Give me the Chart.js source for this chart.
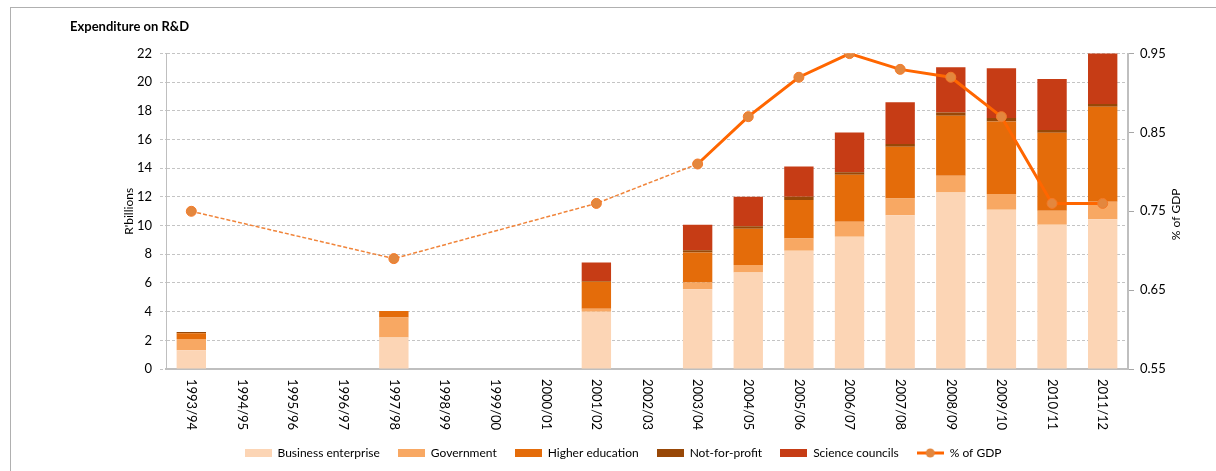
<!DOCTYPE html>
<html lang="en">
<head>
    <meta charset="UTF-8">
    <title>Expenditure on R&amp;D</title>
    <script src="https://cdn.jsdelivr.net/npm/chart.js"></script>
    <style>
        body { margin: 0; background: #fff; overflow: hidden; }
        #frame { position: absolute; left: 10px; top: 7px; width: 1300px; height: 600px; border: 1px solid #b0b0b0; }
        #chart-container { position: absolute; left: 10px; top: 7px; width: 1226px; height: 470px; }
    </style>
</head>
<body>
    <div id="frame"></div>
    <div id="chart-container">
        <canvas id="rdChart"></canvas>
    </div>

    <script>
        const years = ['1993/94', '1994/95', '1995/96', '1996/97', '1997/98', '1998/99', '1999/00', '2000/01', '2001/02', '2002/03',
            '2003/04', '2004/05', '2005/06', '2006/07', '2007/08', '2008/09', '2009/10', '2010/11', '2011/12'];
        // R'billions
        const business = [1.3, null, null, null, 2.2, null, null, null, 4.0, null, 5.56, 6.73, 8.24, 9.22, 10.73, 12.31, 11.1, 10.06, 10.45];
        const government = [0.8, null, null, null, 1.4, null, null, null, 0.21, null, 0.47, 0.53, 0.86, 1.05, 1.16, 1.17, 1.1, 0.97, 1.21];
        const higherEducation = [0.4, null, null, null, 0.45, null, null, null, 1.87, null, 2.09, 2.52, 2.68, 3.28, 3.61, 4.19, 5.07, 5.45, 6.64];
        const notForProfit = [0.08, null, null, null, 0, null, null, null, 0.05, null, 0.17, 0.18, 0.23, 0.18, 0.19, 0.23, 0.23, 0.19, 0.18];
        const scienceCouncils = [0, null, null, null, 0, null, null, null, 1.3, null, 1.77, 2.05, 2.12, 2.77, 2.91, 3.14, 3.47, 3.56, 3.59];
        // % of GDP
        const pctGDP = [0.75, null, null, null, 0.69, null, null, null, 0.76, null, 0.81, 0.87, 0.92, 0.95, 0.93, 0.92, 0.87, 0.76, 0.76];
        const leftTicks = [0, 22, 2];
        const rightTicks = [0.55, 0.95, 0.1];

        const FONT = 'Lato, "Noto Sans", sans-serif';

        function swatch(color, isLine) {
            const c = document.createElement('canvas');
            c.width = 27; c.height = 10;
            const g = c.getContext('2d');
            if (isLine) {
                g.strokeStyle = '#FF6600';
                g.lineWidth = 3;
                g.beginPath(); g.moveTo(0, 5); g.lineTo(27, 5); g.stroke();
                g.fillStyle = '#E3873E';
                g.beginPath(); g.arc(13.5, 5, 4.5, 0, Math.PI * 2); g.fill();
            } else {
                g.fillStyle = color;
                g.fillRect(0, 1, 27, 8);
            }
            return c;
        }

        // x labels read top to bottom, % of GDP title reads bottom to top
        const extraText = {
            id: 'extraText',
            afterDraw(chart) {
                const ctx = chart.ctx;
                const xs = chart.scales.x;
                ctx.save();
                ctx.fillStyle = '#000';
                ctx.font = '13px ' + FONT;
                ctx.textAlign = 'left';
                ctx.textBaseline = 'middle';
                years.forEach((lab, i) => {
                    ctx.save();
                    ctx.translate(xs.getPixelForValue(i), chart.chartArea.bottom + 10);
                    ctx.rotate(Math.PI / 2);
                    ctx.fillText(lab, 0, 0);
                    ctx.restore();
                });
                ctx.font = '12px ' + FONT;
                ctx.textAlign = 'center';
                ctx.translate(1166, (chart.chartArea.top + chart.chartArea.bottom) / 2 + 3);
                ctx.rotate(-Math.PI / 2);
                ctx.fillText('% of GDP', 0, 0);
                ctx.restore();
            }
        };

        const barColors = ['#FCD5B5', '#F8A863', '#E46C0A', '#984807', '#C63C15'];
        const gap = (c, v) => (c.p0.skip || c.p1.skip) ? v : undefined;

        new Chart(document.getElementById('rdChart'), {
            data: {
                labels: years,
                datasets: [
                    { type: 'bar', label: 'Business enterprise', data: business, backgroundColor: barColors[0], order: 1 },
                    { type: 'bar', label: 'Government', data: government, backgroundColor: barColors[1], order: 1 },
                    { type: 'bar', label: 'Higher education', data: higherEducation, backgroundColor: barColors[2], order: 1 },
                    { type: 'bar', label: 'Not-for-profit', data: notForProfit, backgroundColor: barColors[3], order: 1 },
                    { type: 'bar', label: 'Science councils', data: scienceCouncils, backgroundColor: barColors[4], order: 1 },
                    {
                        type: 'line', label: '% of GDP', data: pctGDP, yAxisID: 'y1', order: 0,
                        spanGaps: true,
                        borderColor: '#FF6600',
                        borderWidth: 3,
                        pointRadius: 5,
                        pointBackgroundColor: '#E3873E',
                        pointBorderColor: '#F57A28',
                        pointBorderWidth: 1,
                        segment: {
                            borderDash: c => gap(c, [4, 2]),
                            borderWidth: c => gap(c, 1.5),
                            borderColor: c => gap(c, '#F0843A')
                        }
                    }
                ]
            },
            options: {
                responsive: true,
                maintainAspectRatio: false,
                animation: false,
                layout: { padding: { left: 60, right: 60, top: 0, bottom: 8 } },
                datasets: { bar: { barPercentage: 0.58, categoryPercentage: 1 } },
                scales: {
                    x: {
                        stacked: true,
                        grid: { display: false },
                        border: { color: '#BFBFBF', width: 2 },
                        ticks: { display: false },
                        afterFit: s => { s.height = 60; }
                    },
                    y: {
                        stacked: true,
                        min: leftTicks[0], max: leftTicks[1],
                        ticks: { stepSize: leftTicks[2], color: '#000', font: { family: FONT, size: 13 }, padding: 8 },
                        grid: { color: '#C4C4C4', tickLength: 6, tickBorderDash: [3, 2] },
                        border: { color: '#BFBFBF', width: 1, dash: [3, 2] },
                        title: { display: true, text: "R'billions", color: '#000', font: { family: FONT, size: 12 }, padding: { top: 52, bottom: 0 } },
                        afterFit: s => { s.width = 96; }
                    },
                    y1: {
                        position: 'right',
                        min: rightTicks[0], max: rightTicks[1],
                        ticks: { stepSize: rightTicks[2], color: '#000', font: { family: FONT, size: 13 }, padding: 6, callback: v => v.toFixed(2) },
                        grid: { drawOnChartArea: false, color: '#A6A6A6', tickLength: 6 },
                        border: { color: '#BFBFBF', width: 2 },
                        afterFit: s => { s.width = 48; }
                    }
                },
                plugins: {
                    title: {
                        display: true, text: 'Expenditure on R&D', align: 'start', color: '#000',
                        font: { family: FONT, size: 13, weight: 'bold' }, padding: { top: 12, bottom: 19 }
                    },
                    legend: {
                        position: 'bottom',
                        labels: {
                            usePointStyle: true,
                            pointStyleWidth: 27,
                            padding: 18,
                            color: '#000',
                            font: { family: FONT, size: 12 },
                            generateLabels: chart => chart.data.datasets.map((ds, i) => ({
                                text: ds.label,
                                datasetIndex: i,
                                pointStyle: swatch(ds.backgroundColor, ds.type === 'line'),
                                fillStyle: ds.backgroundColor,
                                strokeStyle: 'transparent',
                                lineWidth: 0,
                                hidden: false
                            }))
                        }
                    },
                    tooltip: { enabled: false }
                }
            },
            plugins: [extraText]
        });
    </script>
</body>
</html>
